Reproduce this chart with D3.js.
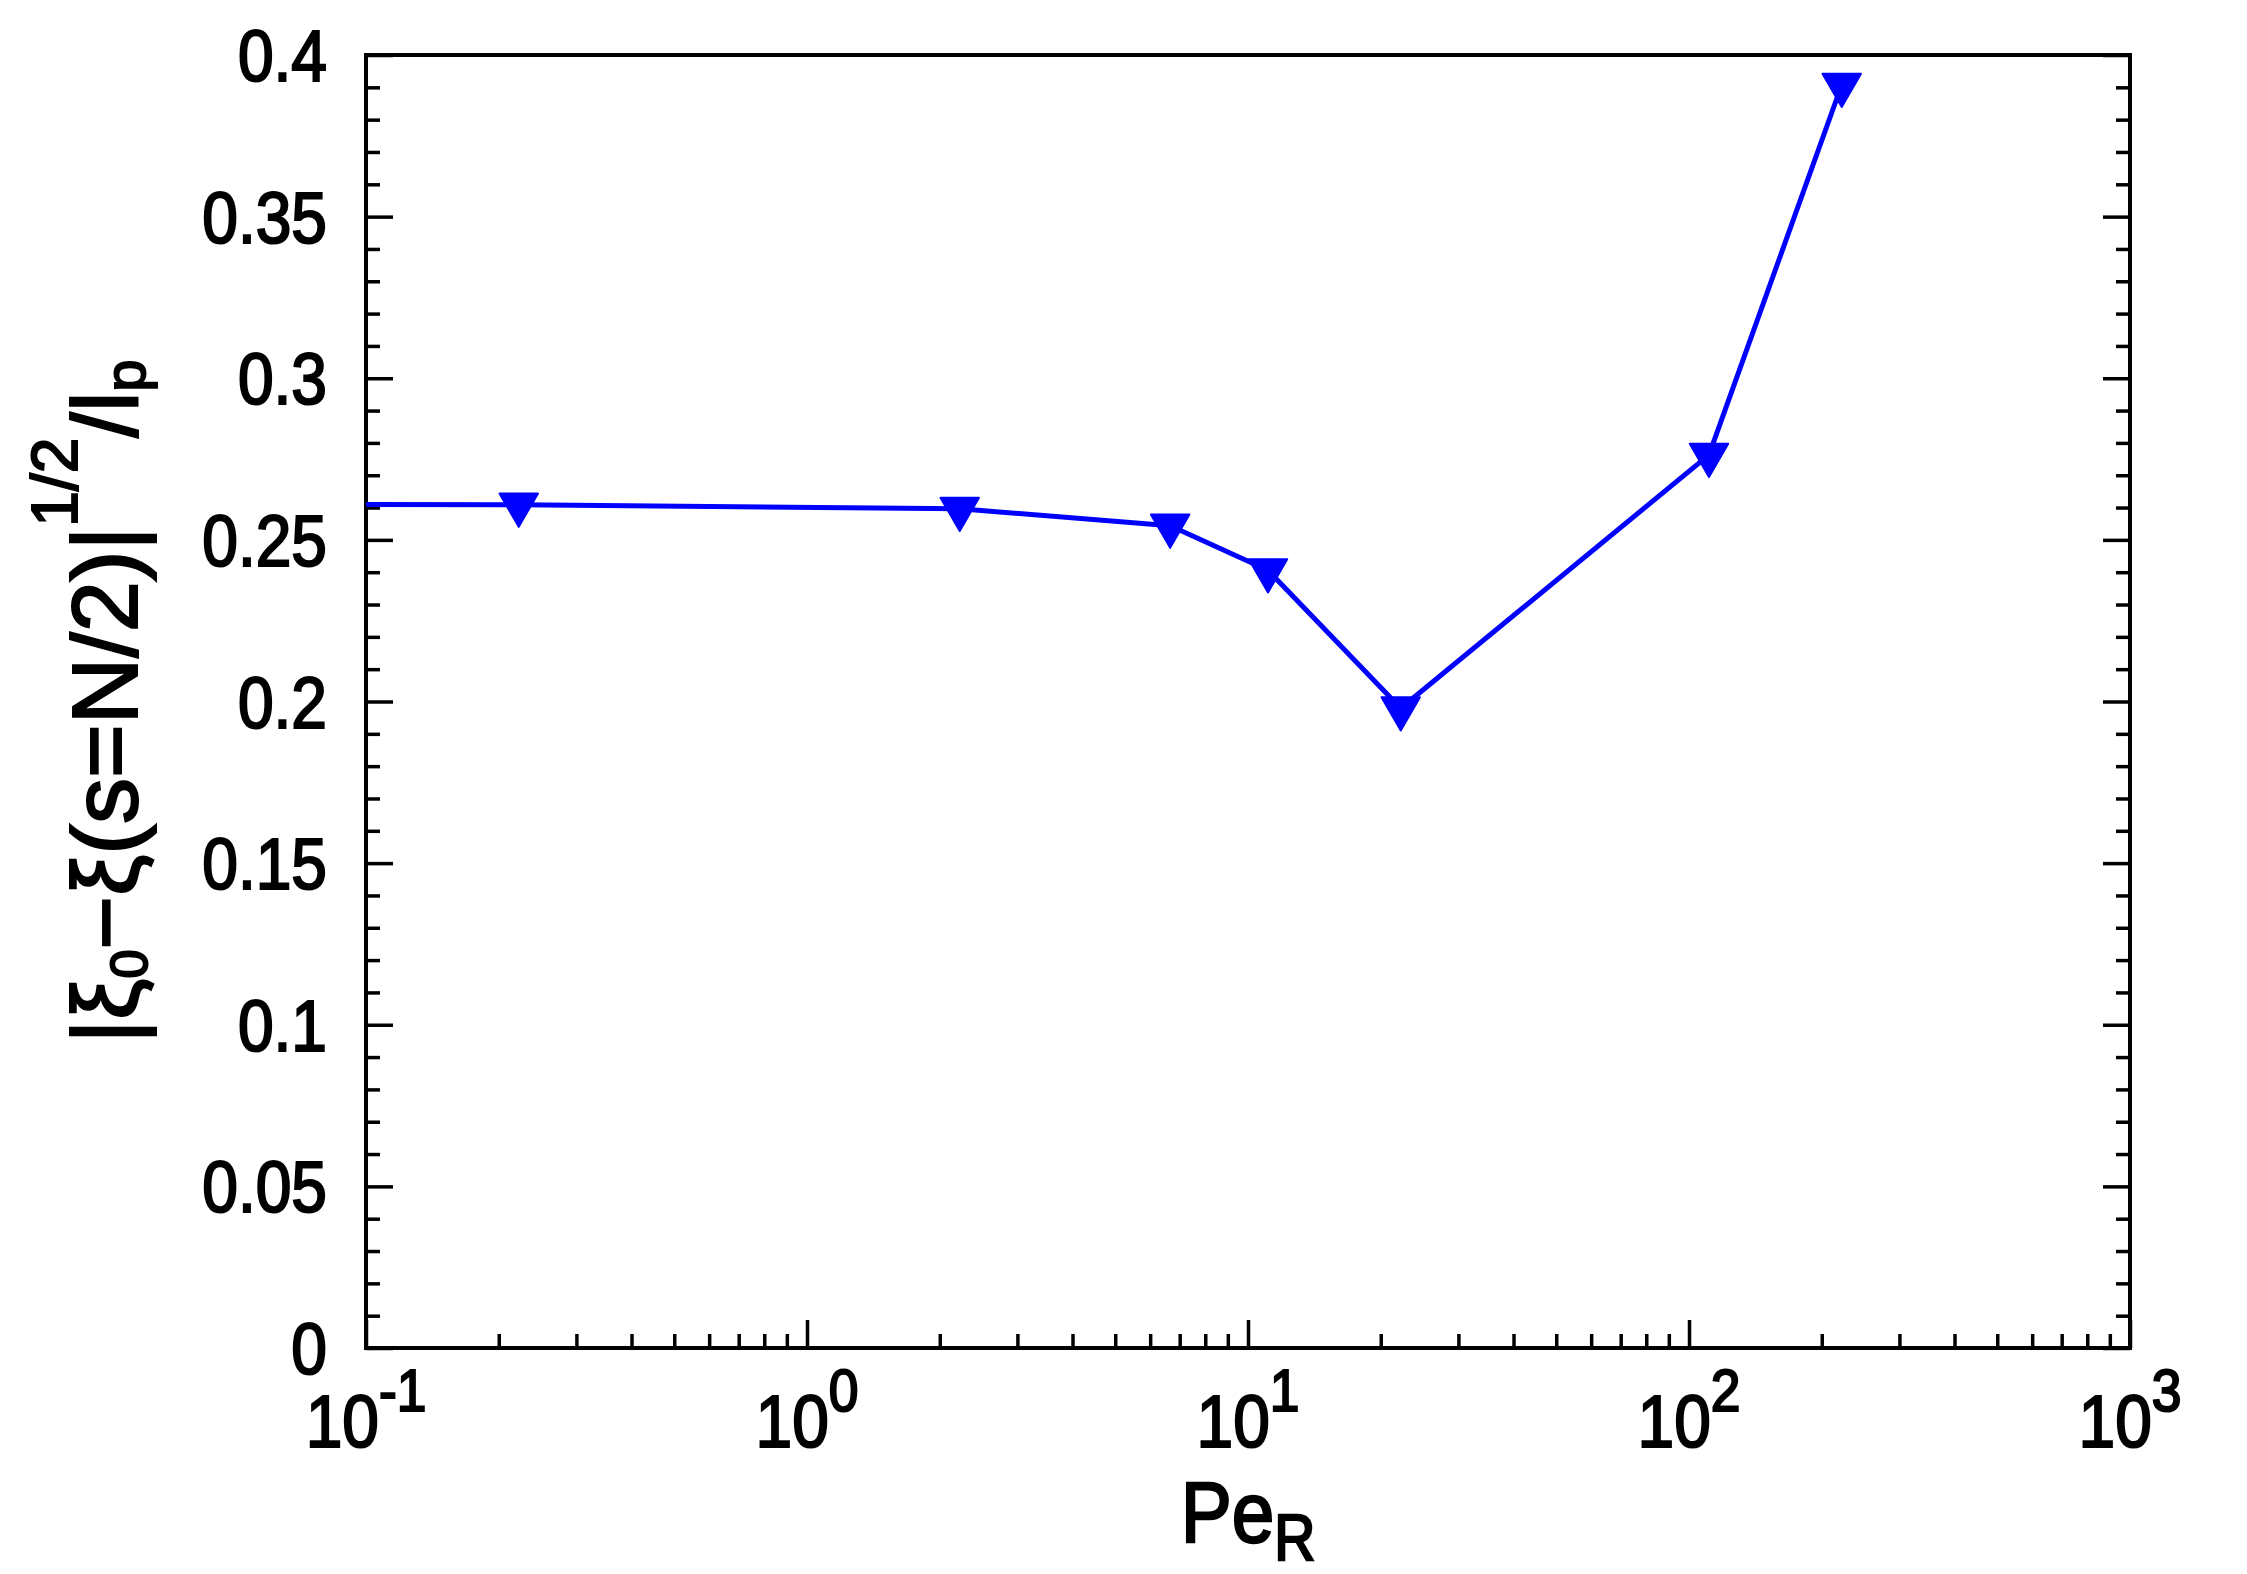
<!DOCTYPE html>
<html>
<head>
<meta charset="utf-8">
<script src="https://cdn.jsdelivr.net/npm/d3@7"></script>
<style>
  body { margin: 0; background: #fff; }
  svg { display: block; }
  text { font-family: "Liberation Sans", Arial, Helvetica, sans-serif; fill: #000; }
</style>
</head>
<body>
<svg id="chart" width="2247" height="1574"></svg>
<script>
// ---- data ----
const peR = [0.0222, 0.222, 2.22, 6.66, 11.1, 22.2, 111, 222];
const xiDiff = [0.2611, 0.2609, 0.2596, 0.2544, 0.2406, 0.1979, 0.2763, 0.3908];
const xMajorTicks = [0.1, 1, 10, 100, 1000];
const xTickExponents = ["-1", "0", "1", "2", "3"];
const yMajorTicks = [0, 0.05, 0.1, 0.15, 0.2, 0.25, 0.3, 0.35, 0.4];
const yTickLabels = ["0", "0.05", "0.1", "0.15", "0.2", "0.25", "0.3", "0.35", "0.4"];

// ---- layout ----
const L = 366, R = 2130, T = 55, B = 1348;
const svg = d3.select("#chart");

const x = d3.scaleLog().domain([0.1, 1000]).range([L, R]);
const y = d3.scaleLinear().domain([0, 0.4]).range([B, T]);

const xMinor = [];
for (let e = -1; e < 3; e++) for (let k = 2; k <= 9; k++) xMinor.push(k * Math.pow(10, e));
const yMinor = d3.range(0, 41).map(i => i / 100).filter(v => Math.round(v * 100) % 5 !== 0);

function styleAxis(g) {
  g.select(".domain").remove();
  g.selectAll(".tick line").attr("stroke", "#000").attr("stroke-width", 3.5);
  g.selectAll(".tick text").remove();
}

// bottom ticks
svg.append("g").attr("transform", `translate(0,${B})`)
  .call(d3.axisBottom(x).tickValues(xMajorTicks).tickSize(-28).tickFormat(() => "")).call(styleAxis);
svg.append("g").attr("transform", `translate(0,${B})`)
  .call(d3.axisBottom(x).tickValues(xMinor).tickSize(-14).tickFormat(() => "")).call(styleAxis);
// left ticks
svg.append("g").attr("transform", `translate(${L},0)`)
  .call(d3.axisLeft(y).tickValues(yMajorTicks).tickSize(-27).tickFormat(() => "")).call(styleAxis);
svg.append("g").attr("transform", `translate(${L},0)`)
  .call(d3.axisLeft(y).tickValues(yMinor).tickSize(-14).tickFormat(() => "")).call(styleAxis);
// right ticks
svg.append("g").attr("transform", `translate(${R},0)`)
  .call(d3.axisRight(y).tickValues(yMajorTicks).tickSize(-27).tickFormat(() => "")).call(styleAxis);
svg.append("g").attr("transform", `translate(${R},0)`)
  .call(d3.axisRight(y).tickValues(yMinor).tickSize(-14).tickFormat(() => "")).call(styleAxis);

// frame
svg.append("rect").attr("x", L).attr("y", T).attr("width", R - L).attr("height", B - T)
  .attr("fill", "none").attr("stroke", "#000").attr("stroke-width", 4);

// y tick labels
svg.append("g").selectAll("text").data(yMajorTicks).join("text")
  .attr("transform", d => `translate(327,${y(d) + 26}) scale(0.89,1)`)
  .attr("text-anchor", "end")
  .attr("font-size", 72)
  .attr("stroke", "#000").attr("stroke-width", 2.2)
  .text((d, i) => yTickLabels[i]);

// x tick labels
const xl = svg.append("g").selectAll("text").data(xMajorTicks).join("text")
  .attr("transform", d => `translate(${x(d)},1447) scale(0.89,1)`)
  .attr("text-anchor", "middle")
  .attr("font-size", 74)
  .attr("stroke", "#000").attr("stroke-width", 2.2);
xl.append("tspan").text("10");
xl.append("tspan").attr("dy", -36).attr("font-size", 60).text((d, i) => xTickExponents[i]);

// x axis title
const xt = svg.append("text")
  .attr("transform", `translate(${(L + R) / 2},1542) scale(0.89,1)`)
  .attr("text-anchor", "middle").attr("font-size", 86)
  .attr("stroke", "#000").attr("stroke-width", 2.4);
xt.append("tspan").text("Pe");
xt.append("tspan").attr("dy", 18).attr("font-size", 64).text("R");

// y axis title
const yt = svg.append("text")
  .attr("transform", `translate(137,${(T + B) / 2}) rotate(-90)`)
  .attr("text-anchor", "middle").attr("font-size", 92)
  .attr("stroke", "#000").attr("stroke-width", 2);
yt.append("tspan").text("|ξ");
yt.append("tspan").attr("dy", 10).attr("font-size", 52).text("0");
yt.append("tspan").attr("dy", -10).text("−ξ(s=N/2)|");
yt.append("tspan").attr("dy", -60).attr("font-size", 64).text("1/2");
yt.append("tspan").attr("dy", 60).text("/l");
yt.append("tspan").attr("dy", 8).attr("font-size", 58).text("p");

// clip
svg.append("clipPath").attr("id", "plotclip").append("rect")
  .attr("x", L).attr("y", T).attr("width", R - L).attr("height", B - T);

const pts = peR.map((v, i) => ({ x: v, y: xiDiff[i] }));

svg.append("path").datum(pts)
  .attr("clip-path", "url(#plotclip)")
  .attr("fill", "none").attr("stroke", "#0000ff").attr("stroke-width", 5)
  .attr("stroke-linejoin", "round")
  .attr("d", d3.line().x(d => x(d.x)).y(d => y(d.y)));

const tri = d3.symbol(d3.symbolTriangle, 640);
svg.append("g").selectAll("path")
  .data(pts.filter(p => p.x >= 0.1 && p.x <= 1000))
  .join("path")
  .attr("transform", d => `translate(${x(d.x)},${y(d.y)}) rotate(180)`)
  .attr("d", tri)
  .attr("fill", "#0000ff").attr("stroke", "#0000ff").attr("stroke-width", 2).attr("stroke-linejoin", "round");
</script>
</body>
</html>
